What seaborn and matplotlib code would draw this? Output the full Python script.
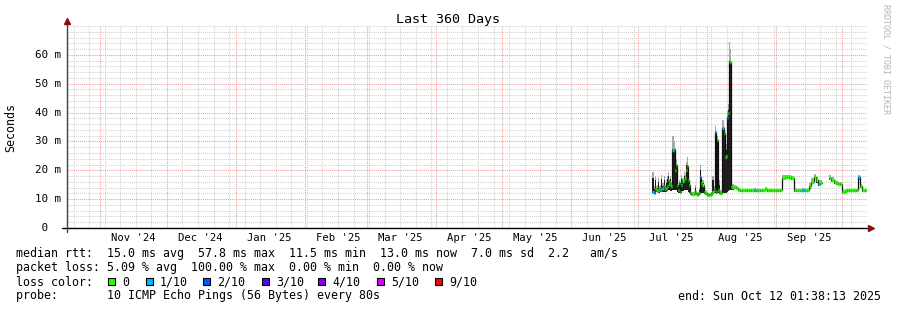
import numpy as np
import pandas as pd
import matplotlib
matplotlib.use("Agg")
import matplotlib.pyplot as plt
import matplotlib.dates as mdates
from matplotlib.ticker import FixedLocator, MultipleLocator, NullFormatter
from matplotlib.patches import Rectangle
import seaborn as sns

# ---------------- data ----------------
view_end = "2025-10-12 01:38:13"
span_days = 360

# 12-hourly samples (Jul 7 12:00 -> Aug 12 12:00), values in ms
dense_start = "2025-07-07 12:00"
med_dense = [
    12.5, 12.3, 13.5, 13.2, 13.2, 13.0, 13.2, 13.2, 13.5, 14.0,
    14.5, 13.5, 14.0, 14.5, 16.6, 16.0, 15.0, 14.5, 27.0, 27.5,
    20.0, 21.8, 15.0, 13.2, 15.5, 12.6, 15.0, 16.3, 17.0, 17.4,
    20.0, 21.5, 16.5, 15.0, 12.0, 11.8, 11.7, 11.8, 12.5, 12.0,
    11.6, 11.8, 12.0, 17.8, 15.5, 15.0, 12.5, 12.3, 12.0, 11.6,
    11.5, 11.6, 11.5, 11.8, 12.5, 13.0, 33.4, 12.5, 30.5, 13.0,
    12.3, 12.0, 12.3, 34.5, 33.0, 24.7, 25.0, 38.6, 40.0, 57.8,
    57.6, 14.3, 14.3]
lo_dense = [
    12.0, 12.0, 12.3, 12.5, 12.5, 12.3, 12.3, 12.5, 12.5, 12.5,
    12.5, 12.5, 12.5, 12.8, 13.0, 13.0, 12.8, 12.8, 13.0, 13.0,
    13.0, 13.0, 12.5, 12.3, 12.3, 12.0, 12.3, 12.8, 13.0, 13.0,
    13.0, 13.0, 12.5, 12.0, 11.5, 11.3, 11.2, 11.3, 11.5, 11.5,
    11.2, 11.3, 11.5, 12.0, 12.0, 12.0, 11.8, 11.6, 11.4, 11.2,
    11.1, 11.2, 11.1, 11.3, 11.8, 12.0, 12.0, 11.8, 12.0, 12.0,
    11.8, 11.6, 11.8, 12.0, 12.0, 12.2, 12.2, 12.5, 12.8, 13.0,
    13.0, 13.0, 13.0]
core_dense = [
    17.5, 13.5, 16.5, 13.5, 14.0, 16.0, 13.5, 14.0, 17.0, 14.5,
    16.5, 13.8, 15.5, 17.0, 18.0, 14.5, 17.0, 15.0, 27.5, 27.5,
    21.0, 22.0, 16.0, 13.5, 15.5, 13.0, 17.0, 16.5, 18.0, 17.5,
    21.8, 22.0, 17.5, 15.0, 12.5, 12.0, 12.0, 12.3, 14.0, 12.3,
    11.8, 12.0, 13.0, 20.0, 16.0, 15.5, 13.0, 12.5, 12.2, 11.8,
    11.7, 11.8, 11.7, 12.0, 16.6, 13.5, 33.4, 13.0, 30.5, 13.5,
    15.0, 12.5, 12.5, 34.5, 33.5, 26.0, 27.0, 38.6, 41.0, 57.8,
    57.6, 15.0, 14.5]
hi_dense = [
    19.5, 14.5, 18.0, 14.5, 15.0, 17.5, 14.5, 15.0, 18.5, 15.5,
    18.0, 14.5, 16.5, 18.0, 19.5, 15.5, 18.0, 16.0, 31.8, 30.0,
    23.0, 24.0, 17.5, 14.5, 16.5, 14.0, 18.5, 17.5, 19.5, 18.5,
    23.0, 24.5, 19.0, 16.0, 13.0, 12.5, 12.5, 12.8, 15.0, 12.8,
    12.3, 12.5, 14.0, 21.8, 17.0, 16.5, 13.5, 13.0, 12.7, 12.3,
    12.2, 12.3, 12.2, 12.5, 18.0, 14.5, 35.5, 14.0, 32.0, 14.5,
    16.6, 13.2, 13.2, 37.4, 35.0, 28.0, 29.0, 40.5, 43.0, 64.6,
    62.0, 16.0, 15.2]
loss_dense = [
    1, 1, 0, 0, 0, 0, 1, 0, 0, 1,
    0, 0, 0, 0, 0, 0, 0, 0, 1, 0,
    0, 0, 0, 0, 1, 0, 0, 0, 0, 0,
    0, 0, 0, 0, 0, 0, 0, 0, 0, 0,
    0, 0, 0, 1, 0, 0, 0, 0, 0, 0,
    0, 0, 0, 0, 0, 0, 1, 0, 0, 0,
    0, 0, 0, 1, 0, 0, 0, 1, 0, 0,
    0, 0, 0]

# daily samples (Aug 13 -> Oct 12), values in ms
daily_start = "2025-08-13"
nan = np.nan
med_daily = [
    14.3, 14.0, 13.2, 13.0, 13.0, 13.0, 13.0, 13.0, 13.0, 13.0,
    13.0, 13.0, 13.0, 13.0, 13.4, 13.0, 13.0, 13.0, 13.0, 13.0,
    13.0, 13.0, 17.5, 17.8, 17.8, 17.6, 17.3, 13.0, 13.0, 13.0,
    13.0, 13.0, 13.0, 13.0, 14.5, 16.0, 17.8, 16.5, 15.2, 15.5,
    nan, nan, nan, 17.5, 16.8, 16.0, 15.7, 15.4, 15.2, 12.5,
    12.8, 13.0, 13.0, 13.0, 13.0, 13.0, 17.6, 14.5, 13.0, 13.0, 13.0]
lo_daily = [
    13.6, 13.4, 12.7, 12.5, 12.5, 12.5, 12.5, 12.5, 12.5, 12.5,
    12.5, 12.5, 12.5, 12.5, 12.7, 12.5, 12.5, 12.5, 12.5, 12.5,
    12.5, 12.5, 16.8, 17.2, 17.2, 17.0, 16.7, 12.5, 12.5, 12.5,
    12.5, 12.5, 12.5, 12.5, 13.6, 15.2, 17.0, 15.6, 14.6, 14.8,
    nan, nan, nan, 16.8, 16.1, 15.3, 15.0, 14.8, 14.6, 12.0,
    12.3, 12.5, 12.5, 12.5, 12.5, 12.5, 16.8, 13.8, 12.5, 12.5, 12.5]
hi_daily = [
    15.0, 14.6, 13.8, 13.6, 13.6, 13.6, 13.6, 13.6, 13.6, 13.7,
    13.6, 13.6, 13.6, 13.6, 14.2, 13.6, 13.6, 13.6, 13.6, 13.6,
    13.6, 13.6, 18.2, 18.5, 18.4, 18.2, 18.0, 13.8, 13.6, 13.6,
    13.6, 13.8, 13.6, 13.6, 15.5, 17.2, 18.8, 17.8, 16.5, 16.5,
    nan, nan, nan, 18.3, 17.5, 16.8, 16.4, 16.1, 15.9, 13.2,
    13.4, 13.6, 13.6, 13.6, 13.6, 13.6, 18.5, 15.4, 13.6, 13.6, 13.6]
core_daily = med_daily
loss_daily = [
    0, 0, 0, 0, 0, 0, 0, 0, 0, 1,
    0, 0, 0, 0, 0, 0, 0, 0, 0, 0,
    0, 0, 0, 0, 0, 0, 0, 0, 0, 0,
    0, 1, 0, 0, 0, 0, 0, 0, 1, 0,
    10, 10, 10, 0, 0, 0, 0, 0, 0, 0,
    0, 0, 0, 0, 0, 0, 1, 0, 0, 0, 0]

y_ticks = [0, 10, 20, 30, 40, 50, 60]
y_labels = [" 0", "10 m", "20 m", "30 m", "40 m", "50 m", "60 m"]

loss_tenths = [0, 1, 2, 3, 4, 5, 9]
loss_labels = ["0", "1/10", "2/10", "3/10", "4/10", "5/10", "9/10"]
loss_colors = ["#26ff00", "#00b8ff", "#0059ff", "#5e00ff", "#7e00ff", "#dd00ff", "#ff0000"]

title = "Last 360 Days"
y_title = "Seconds"
legend_lines = [
    "median rtt:  15.0 ms avg  57.8 ms max  11.5 ms min  13.0 ms now  7.0 ms sd  2.2   am/s",
    "packet loss: 5.09 % avg  100.00 % max  0.00 % min  0.00 % now",
    "loss color:",
    "probe:       10 ICMP Echo Pings (56 Bytes) every 80s",
]
end_text = "end: Sun Oct 12 01:38:13 2025"
watermark = "RRDTOOL / TOBI OETIKER"

# ---------------- frame ----------------
t_dense = pd.date_range(dense_start, periods=len(med_dense), freq="12h")
t_daily = pd.date_range(daily_start, periods=len(med_daily), freq="D")
df = pd.DataFrame({
    "t": list(t_dense) + list(t_daily),
    "dur": [0.5] * len(t_dense) + [1.0] * len(t_daily),
    "median": med_dense + med_daily,
    "lo": lo_dense + lo_daily,
    "core": core_dense + core_daily,
    "hi": hi_dense + hi_daily,
    "loss": loss_dense + loss_daily,
})
valid = df["median"].notna()
df["seg"] = (~valid).cumsum()

pieces = []
for s, g in df[valid].groupby("seg"):
    last = g.iloc[[-1]].copy()
    last["t"] = last["t"] + pd.to_timedelta(last["dur"], unit="D")
    pieces.append(pd.concat([g, last]))
line_df = pd.concat(pieces, ignore_index=True)

# ---------------- style ----------------
sns.set_theme(style="white")
plt.rcParams["font.family"] = ["DejaVu Sans Mono", "DejaVu Sans"]
MONO = "DejaVu Sans Mono"

W, H = 897, 310
fig = plt.figure(figsize=(W / 100, H / 100), dpi=100)
fig.patch.set_facecolor("white")
ax = fig.add_axes([67 / W, 82 / H, 800 / W, 202 / H])
ax.set_facecolor("white")

tn = mdates.date2num(df["t"])
# smoke
ax.bar(tn, df["core"] - df["lo"], bottom=df["lo"], width=df["dur"], align="edge",
       color="#1e1e1e", linewidth=0, edgecolor="none", zorder=2)
ax.bar(tn, df["hi"] - df["core"], bottom=df["core"], width=df["dur"], align="edge",
       color="#a8a8a8", linewidth=0, edgecolor="none", zorder=2)

# median line
sns.lineplot(data=line_df, x="t", y="median", units="seg", estimator=None,
             drawstyle="steps-post", color="#111111", linewidth=0.9, ax=ax,
             legend=False, zorder=3)

# loss-coloured median segments
for k, col in zip(loss_tenths, loss_colors):
    sel = (valid & (df["loss"] == k)).to_numpy()
    if sel.any():
        ax.hlines(df["median"][sel], tn[sel], tn[sel] + df["dur"][sel].to_numpy(),
                  colors=col, linewidth=2.5, zorder=4)

end_ts = pd.Timestamp(view_end)
start_ts = end_ts - pd.Timedelta(days=span_days)
ax.set_xlim(mdates.date2num(start_ts), mdates.date2num(end_ts))
ax.set_ylim(0, 70)
ax.set_xlabel("")
ax.set_ylabel("")

ax.xaxis.set_major_locator(mdates.MonthLocator())
ax.xaxis.set_minor_locator(mdates.WeekdayLocator(byweekday=mdates.SU))
ax.xaxis.set_major_formatter(NullFormatter())
ax.xaxis.set_minor_formatter(NullFormatter())
ax.yaxis.set_major_locator(FixedLocator(y_ticks))
ax.yaxis.set_minor_locator(MultipleLocator(2))
ax.yaxis.set_major_formatter(NullFormatter())
ax.yaxis.set_minor_formatter(NullFormatter())

ax.set_axisbelow(True)
ax.grid(True, which="minor", color="#d0d0d0", linestyle=(0, (1, 1)), linewidth=0.75)
ax.grid(True, which="major", color="#f29c9c", linestyle=(0, (1, 1)), linewidth=0.75)
ax.tick_params(which="minor", length=0)
ax.tick_params(axis="x", which="major", direction="out", length=2.5, width=0.8,
               color="#f29c9c", labelbottom=False)
ax.tick_params(axis="y", which="major", direction="out", length=1.5, width=0.8,
               color="#f29c9c", labelleft=False)
for sp in ax.spines.values():
    sp.set_visible(False)

# axes lines and arrows
ax.plot([-5 / 800, 1.0], [0, 0], transform=ax.transAxes, color="black",
        linewidth=1.0, clip_on=False, zorder=6)
ax.plot([1.0 + 4 / 800], [0], marker=">", markersize=4.5, color="#8b1010",
        transform=ax.transAxes, clip_on=False, zorder=7)
ax.plot([0, 0], [-4 / 202, 1.0 + 2 / 202], transform=ax.transAxes, color="#404040",
        linewidth=1.0, clip_on=False, zorder=6)
ax.plot([0], [1.0 + 5 / 202], marker="^", markersize=4.5, color="#8b1010",
        transform=ax.transAxes, clip_on=False, zorder=7)

# y tick labels
ytrans = matplotlib.transforms.blended_transform_factory(ax.transAxes, ax.transData)
for v, lab in zip(y_ticks, y_labels):
    ax.text((35 - 67) / 800, v, lab, transform=ytrans, ha="left", va="center",
            fontsize=7.8, family=MONO, color="black", clip_on=False)

# month labels (centred mid-month)
xtrans = ax.get_xaxis_transform()
for m in pd.date_range(start_ts.normalize() - pd.offsets.MonthBegin(1), end_ts, freq="MS"):
    mid = m + pd.Timedelta(days=15)
    if start_ts <= mid <= end_ts:
        ax.text(mdates.date2num(mid), -10 / 202, f"{mid:%b} '{mid:%y}", transform=xtrans,
                ha="center", va="center", fontsize=7.6, family=MONO, color="black",
                clip_on=False)

# titles
fig.text(448 / W, 1 - 19 / H, title, ha="center", va="center", fontsize=9.6,
         family=MONO, color="black")
fig.text(11 / W, 1 - 127 / H, y_title, ha="center", va="center", rotation=90,
         fontsize=8.4, family=MONO, color="black")
fig.text(886 / W, 1 - 59 / H, watermark, ha="center", va="center", rotation=270,
         fontsize=6.0, family=MONO, color="#b4b4b4")

# legend rows
row_y = [254, 268, 282, 296]
for yy, txt in zip(row_y, legend_lines):
    fig.text(15.5 / W, 1 - yy / H, txt, ha="left", va="center", fontsize=8.4,
             family=MONO, color="black")

box_x = [108, 145.5, 203, 261.5, 318, 376.5, 435]
for bx, lab, col in zip(box_x, loss_labels, loss_colors):
    fig.patches.append(Rectangle((bx / W, 1 - 285 / H), 7 / W, 7 / H,
                                 transform=fig.transFigure, facecolor=col,
                                 edgecolor="black", linewidth=0.8))
    fig.text((bx + 14.5) / W, 1 - 282 / H, lab, ha="left", va="center", fontsize=8.4,
             family=MONO, color="black")

fig.text(881 / W, 1 - 296 / H, end_text, ha="right", va="center", fontsize=8.4,
         family=MONO, color="black")

fig.savefig("out.png", dpi=100, facecolor="white")
